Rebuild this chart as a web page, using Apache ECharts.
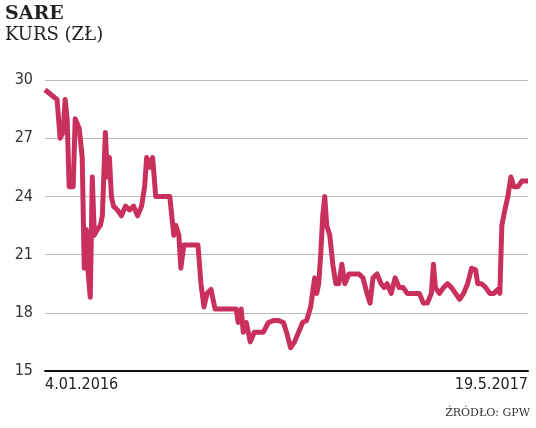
<!DOCTYPE html>
<html><head><meta charset="utf-8">
<script src="https://cdn.jsdelivr.net/npm/echarts@6/dist/echarts.min.js"></script>
<style>body{margin:0;background:#fff}#c{width:536px;height:428px}</style>
</head><body><div id="c"></div>
<script>
var days = [48,55,60,63,66,68,70,72,76,78,82,85,87,89,91,93,95,97,100,103,105,108,110,112,114,116,120,124,128,132,136,140,144,147,149,152,155,158,160,164,168,172,176,178,181,183,186,190,195,200,203,206,209,213,217,222,228,234,238,240,243,245,248,252,256,260,265,270,275,280,285,288,292,296,300,304,308,312,316,318,320,322,324,326,328,331,334,337,340,343,346,350,355,360,364,368,371,374,378,382,385,388,392,396,400,404,408,412,416,420,424,428,432,434,436,440,444,448,452,456,460,464,468,472,476,478,482,486,490,494,498,500,502,505,508,511,514,518,522,528];
var prices = [29.5,29.2,29,27,27.3,29,28,24.5,24.5,28,27.5,26,20.3,22.3,20,18.8,25,22,22.3,22.5,23,27.3,25,26,24,23.5,23.3,23,23.5,23.3,23.5,23,23.5,24.5,26,25.5,26,24,24,24,24,24,22,22.5,22,20.3,21.5,21.5,21.5,21.5,19.5,18.3,19,19.2,18.2,18.2,18.2,18.2,18.2,17.5,18.2,17,17.5,16.5,17,17,17,17.5,17.6,17.6,17.5,17,16.2,16.5,17,17.5,17.6,18.3,19.8,19,19.5,21,23,24,22.5,22,20.5,19.5,19.5,20.5,19.5,20,20,20,19.8,19,18.5,19.8,20,19.5,19.3,19.5,19,19.8,19.3,19.3,19,19,19,19,18.5,18.5,19,20.5,19.3,19,19.3,19.5,19.3,19,18.7,19,19.5,20.3,20.2,19.5,19.5,19.3,19,19,19.2,19,22.5,23.3,24,25,24.5,24.5,24.8,24.8];
var xLabels = {48: '4.01.2016', 528: '19.5.2017'};
var yTicks = [15, 18, 21, 24, 27, 30];

var chart = echarts.init(document.getElementById('c'));
chart.setOption({
    animation: false,
    title: {
        text: 'SARE', subtext: 'KURS (ZŁ)', left: 0, top: 0, itemGap: 2,
        textStyle: {fontFamily: 'DejaVu Serif', fontWeight: 'bold', fontSize: 19, color: '#222'},
        subtextStyle: {fontFamily: 'DejaVu Serif', fontSize: 18, color: '#222'}
    },
    graphic: [{type: 'text', right: 6, top: 408,
        style: {text: 'ŹRÓDŁO: GPW', font: '11px "DejaVu Serif"', fill: '#333'}}],
    grid: {left: 45, right: 8, top: 80, bottom: 57},
    xAxis: {
        type: 'value', min: 48, max: 528, interval: 480,
        axisLine: {lineStyle: {color: '#111', width: 2}},
        axisTick: {show: false}, splitLine: {show: false},
        axisLabel: {
            formatter: function (v) { return xLabels[v] || ''; },
            alignMinLabel: 'left', alignMaxLabel: 'right',
            fontFamily: 'DejaVu Sans Condensed', fontSize: 16, color: '#222', margin: 6
        }
    },
    yAxis: {
        type: 'value', min: yTicks[0], max: yTicks[yTicks.length - 1], interval: 3,
        axisLine: {show: false}, axisTick: {show: false},
        splitLine: {lineStyle: {color: '#bbb', width: 1}},
        axisLabel: {fontFamily: 'DejaVu Sans Condensed', fontSize: 16, color: '#333', margin: 12}
    },
    series: [{
        type: 'line', showSymbol: false,
        data: days.map(function (d, i) { return [d, prices[i]]; }),
        lineStyle: {color: '#c9305c', width: 5, join: 'round'}
    }]
});
</script></body></html>
